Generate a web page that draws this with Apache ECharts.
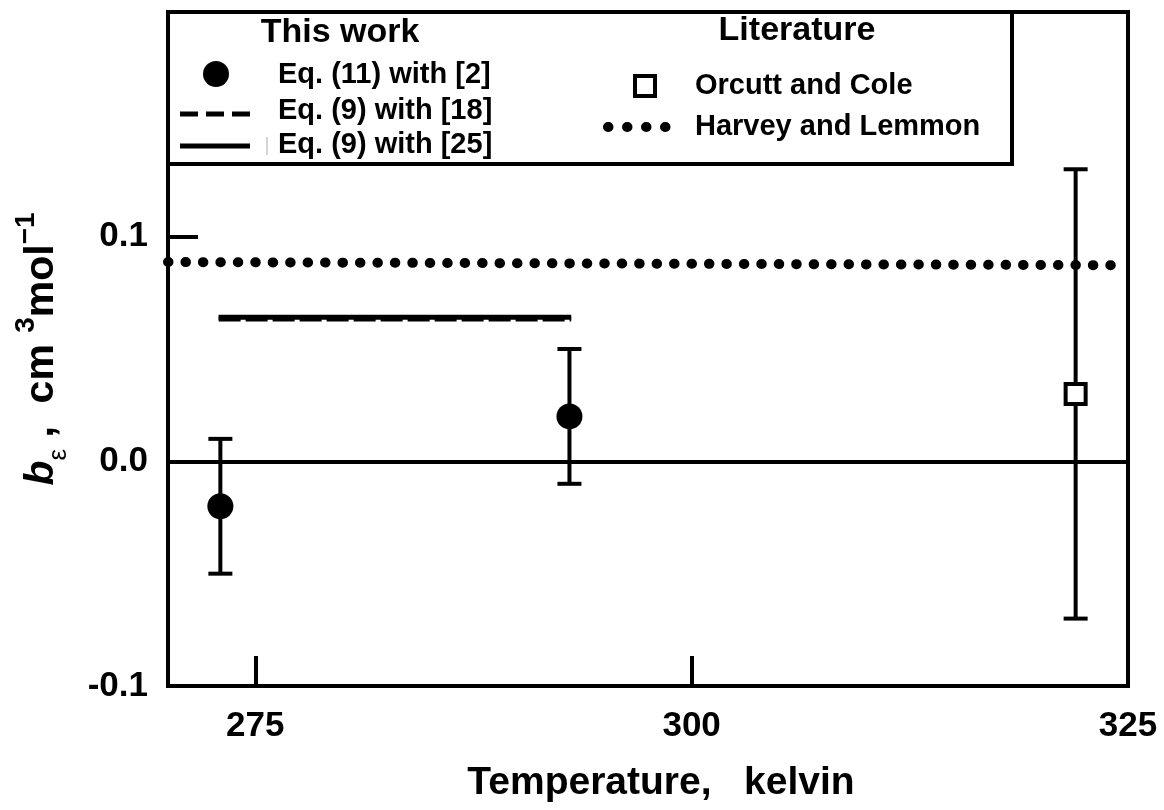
<!DOCTYPE html>
<html>
<head>
<meta charset="utf-8">
<script src="https://cdn.jsdelivr.net/npm/echarts@6/dist/echarts.min.js"></script>
<style>html,body{margin:0;padding:0;background:#fff}#c{width:1164px;height:810px}</style>
</head>
<body>
<div id="c"></div>
<script>
// ---- data ----
var thisWorkT = [273.0, 293.0];
var thisWorkB = [-0.020, 0.020];
var thisWorkErr = [0.030, 0.030];
var orcuttT = [322.0];
var orcuttB = [0.030];
var orcuttErr = [0.100];
var eq9Ref18T = [272.9, 293.1];
var eq9Ref18B = [0.0633, 0.0633];
var eq9Ref25T = [272.9, 293.1];
var eq9Ref25B = [0.0641, 0.0641];
var harveyT = [270.0, 324.1];
var harveyB = [0.0887, 0.0873];
var xTickLabels = [275, 300, 325];
var yTickLabels = [-0.1, 0.0, 0.1];

var FONT = '"Liberation Sans", Arial, sans-serif';

function pairs(xs, ys) { return xs.map(function (x, i) { return [x, ys[i]]; }); }
function triples(xs, ys, es) { return xs.map(function (x, i) { return [x, ys[i], es[i]]; }); }

function errRender(params, api) {
  var x = api.value(0), y = api.value(1), e = api.value(2);
  var t = api.coord([x, y + e]), b = api.coord([x, y - e]);
  var hw = 12, st = { stroke: '#000', lineWidth: 4 };
  return { type: 'group', children: [
    { type: 'line', shape: { x1: t[0], y1: t[1], x2: b[0], y2: b[1] }, style: st },
    { type: 'line', shape: { x1: t[0] - hw, y1: t[1], x2: t[0] + hw, y2: t[1] }, style: st },
    { type: 'line', shape: { x1: b[0] - hw, y1: b[1], x2: b[0] + hw, y2: b[1] }, style: st }
  ]};
}

var chart = echarts.init(document.getElementById('c'), null, { renderer: 'canvas' });

var ENTRY = 'bold 29px ' + FONT;
var HEAD = 'bold 34px ' + FONT;
var legendGraphics = [
  { type: 'rect', shape: { x: 168, y: 12, width: 844, height: 152 }, style: { fill: '#fff', stroke: '#000', lineWidth: 4 }, z: 100 },
  { type: 'text', x: 340, y: 33, style: { text: 'This work', font: HEAD, fill: '#000', align: 'center', verticalAlign: 'middle' }, z: 101 },
  { type: 'circle', shape: { cx: 216, cy: 74, r: 13 }, style: { fill: '#000' }, z: 101 },
  { type: 'text', x: 278, y: 75, style: { text: 'Eq. (11) with [2]', font: ENTRY, fill: '#000', align: 'left', verticalAlign: 'middle' }, z: 101 },
  { type: 'line', shape: { x1: 180, y1: 114, x2: 250, y2: 114 }, style: { stroke: '#000', lineWidth: 5, lineDash: [18, 8] }, z: 101 },
  { type: 'text', x: 278, y: 111, style: { text: 'Eq. (9) with [18]', font: ENTRY, fill: '#000', align: 'left', verticalAlign: 'middle' }, z: 101 },
  { type: 'line', shape: { x1: 180, y1: 146, x2: 250, y2: 146 }, style: { stroke: '#000', lineWidth: 5 }, z: 101 },
  { type: 'line', shape: { x1: 267, y1: 137, x2: 267, y2: 155 }, style: { stroke: '#aaa', lineWidth: 1 }, z: 101 },
  { type: 'text', x: 278, y: 145, style: { text: 'Eq. (9) with [25]', font: ENTRY, fill: '#000', align: 'left', verticalAlign: 'middle' }, z: 101 },
  { type: 'text', x: 797, y: 31, style: { text: 'Literature', font: HEAD, fill: '#000', align: 'center', verticalAlign: 'middle' }, z: 101 },
  { type: 'rect', shape: { x: 635, y: 76, width: 20, height: 20 }, style: { fill: '#fff', stroke: '#000', lineWidth: 4 }, z: 101 },
  { type: 'text', x: 695, y: 86, style: { text: 'Orcutt and Cole', font: ENTRY, fill: '#000', align: 'left', verticalAlign: 'middle' }, z: 101 },
  { type: 'line', shape: { x1: 608, y1: 127, x2: 666, y2: 127 }, style: { stroke: '#000', lineWidth: 10, lineDash: [0.5, 18.5], lineCap: 'round' }, z: 101 },
  { type: 'text', x: 695, y: 127, style: { text: 'Harvey and Lemmon', font: ENTRY, fill: '#000', align: 'left', verticalAlign: 'middle' }, z: 101 }
];

var option = {
  backgroundColor: '#fff',
  animation: false,
  grid: { left: 168, right: 36, top: 12, bottom: 124, show: true, borderColor: '#000', borderWidth: 4, backgroundColor: 'transparent' },
  xAxis: {
    type: 'value', min: 270, max: 325, interval: 5,
    name: 'Temperature,   kelvin', nameLocation: 'middle', nameGap: 78,
    nameTextStyle: { fontFamily: FONT, fontWeight: 'bold', fontSize: 39, color: '#000', padding: [0, 0, 0, 26] },
    axisLine: { show: true, onZero: false, lineStyle: { color: '#000', width: 4 } },
    axisTick: { show: true, inside: true, length: 30, customValues: [275, 300], lineStyle: { color: '#000', width: 4 } },
    axisLabel: { customValues: xTickLabels, margin: 23, fontFamily: FONT, fontWeight: 'bold', fontSize: 35, color: '#000' },
    splitLine: { show: false }
  },
  yAxis: {
    type: 'value', min: -0.1, max: 0.2, interval: 0.1,
    name: '{b|b}{sub|ε}{t| ,  cm }{sup|3}{t|mol}{sup|−1}',
    nameLocation: 'middle', nameRotate: 90, nameGap: 96,
    nameTextStyle: {
      color: '#000',
      rich: {
        b: { fontFamily: FONT, fontWeight: 'bold', fontStyle: 'italic', fontSize: 41, color: '#000', lineHeight: 60 },
        sub: { fontFamily: FONT, fontSize: 26, color: '#000', verticalAlign: 'bottom', lineHeight: 26 },
        t: { fontFamily: FONT, fontWeight: 'bold', fontSize: 41, color: '#000', lineHeight: 60 },
        sup: { fontFamily: FONT, fontWeight: 'bold', fontSize: 28, color: '#000', verticalAlign: 'top', lineHeight: 28 }
      }
    },
    axisLine: { show: true, onZero: false, lineStyle: { color: '#000', width: 4 } },
    axisTick: { show: true, inside: true, length: 30, customValues: [0.1], lineStyle: { color: '#000', width: 4 } },
    axisLabel: { customValues: yTickLabels, margin: 20, fontFamily: FONT, fontWeight: 'bold', fontSize: 35, color: '#000',
      formatter: function (v) { return v.toFixed(1); } },
    splitLine: { show: false }
  },
  graphic: legendGraphics,
  series: [
    {
      name: 'Harvey and Lemmon', type: 'line', data: pairs(harveyT, harveyB), symbol: 'none',
      lineStyle: { color: '#000', width: 10, type: [0.5, 16.95], cap: 'round' }, z: 3,
      markLine: { silent: true, symbol: 'none', label: { show: false },
        lineStyle: { color: '#000', width: 4, type: 'solid' }, data: [{ yAxis: 0 }] }
    },
    {
      name: 'Eq. (9) with [18]', type: 'line', data: pairs(eq9Ref18T, eq9Ref18B), symbol: 'none',
      lineStyle: { color: '#000', width: 5, type: [22, 5] }, z: 3
    },
    {
      name: 'Eq. (9) with [25]', type: 'line', data: pairs(eq9Ref25T, eq9Ref25B), symbol: 'none',
      lineStyle: { color: '#000', width: 5, type: 'solid' }, z: 3
    },
    {
      name: 'err1', type: 'custom', renderItem: errRender, data: triples(thisWorkT, thisWorkB, thisWorkErr), z: 4
    },
    {
      name: 'err2', type: 'custom', renderItem: errRender, data: triples(orcuttT, orcuttB, orcuttErr), z: 4
    },
    {
      name: 'Eq. (11) with [2]', type: 'scatter', data: pairs(thisWorkT, thisWorkB), symbol: 'circle', symbolSize: 26,
      itemStyle: { color: '#000', opacity: 1 }, z: 5
    },
    {
      name: 'Orcutt and Cole', type: 'scatter', data: pairs(orcuttT, orcuttB), symbol: 'rect', symbolSize: 20,
      itemStyle: { color: '#fff', borderColor: '#000', borderWidth: 4, opacity: 1 }, z: 5
    }
  ]
};
chart.setOption(option);
</script>
</body>
</html>
